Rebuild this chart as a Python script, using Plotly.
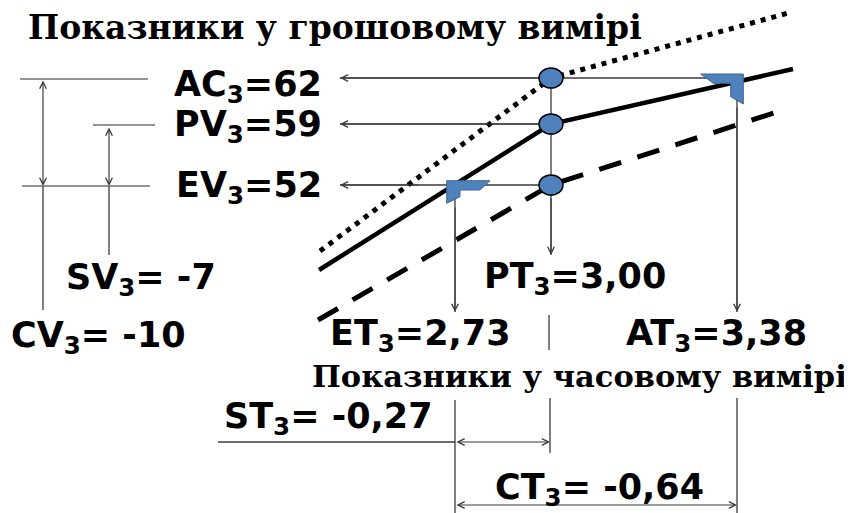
import plotly.graph_objects as go

# ---------------- data (period 3 indicators) ----------------
money_names = ["AC", "PV", "EV"]          # actual cost, planned value, earned value
money_values = [62, 59, 52]
time_names = ["ET", "PT", "AT"]           # earned time, planned time, actual time
time_values = [2.73, 3.00, 3.38]
var_names = ["SV", "CV", "ST", "CT"]      # variances
var_values = [-7, -10, -0.27, -0.64]
title_money = "Показники у грошовому вимірі"
title_time = "Показники у часовому вимірі"

# ---------------- schematic layout (pixel space of the diagram) ----------------
W, H = 852, 513
PAGE_OFF = 8   # page body margin of the html page
money_y = {"AC": 78, "PV": 124, "EV": 185}
time_x = {"ET": 455, "PT": 551, "AT": 737}
# schematic cumulative curves: start, node at PT, end
curve_ac = ([320, 551, 792], [251, 78, 12])
curve_pv = ([319, 551, 793], [270, 124, 69])
curve_ev = ([318, 551, 777], [320, 185, 112])

fmt = lambda v: f"{v:.2f}".replace(".", ",") if isinstance(v, float) else f"{v}"
money = dict(zip(money_names, money_values))
times = dict(zip(time_names, time_values))
var = dict(zip(var_names, var_values))

SANS = dict(family="DejaVu Sans", size=35, color="black", weight="bold")
SERIF_TOP = dict(family="DejaVu Serif", size=33, color="black", weight="bold")
SERIF_BOT = dict(family="DejaVu Serif", size=30.5, color="black", weight="bold")
THIN = "#3a3a3a"
BLUE = "#4F81BD"

fig = go.Figure()

# thin guide lines (under markers)
gx, gy = [], []
def seg(x0, y0, x1, y1):
    gx.extend([x0, x1, None]); gy.extend([y0, y1, None])

xl = 340
seg(xl, money_y["AC"], time_x["AT"], money_y["AC"])
seg(xl, money_y["PV"], time_x["PT"], money_y["PV"])
seg(xl, money_y["EV"], time_x["PT"], money_y["EV"])
seg(time_x["PT"], money_y["AC"], time_x["PT"], 255)
seg(time_x["ET"], money_y["EV"], time_x["ET"], 312)
seg(time_x["AT"], money_y["AC"], time_x["AT"], 312)
seg(549, 315, 549, 350)
seg(time_x["ET"], 400, time_x["ET"], 513)
seg(time_x["PT"] - 1, 398, time_x["PT"] - 1, 453)
seg(time_x["AT"], 398, time_x["AT"], 513)
seg(218, 442, time_x["ET"], 442)
seg(43, 186, 43, 310)
seg(109, 186, 109, 255)
fig.add_trace(go.Scatter(x=gx, y=gy, mode="lines", line=dict(color=THIN, width=1.3),
                         hoverinfo="skip", showlegend=False))
# left bracket horizontal lines
bx, by = [], []
for x0, x1, name in [(20, 148, "AC"), (93, 155, "PV"), (22, 150, "EV")]:
    yy = money_y[name] + 1
    bx.extend([x0, x1, None]); by.extend([yy, yy, None])
fig.add_trace(go.Scatter(x=bx, y=by, mode="lines", line=dict(color="#707070", width=1.6),
                         hoverinfo="skip", showlegend=False))

# curves
fig.add_trace(go.Scatter(x=curve_ac[0], y=curve_ac[1], mode="lines",
                         line=dict(color="black", width=5, dash="5px,6px"), showlegend=False))
fig.add_trace(go.Scatter(x=curve_pv[0], y=curve_pv[1], mode="lines",
                         line=dict(color="black", width=4.5), showlegend=False))
fig.add_trace(go.Scatter(x=curve_ev[0], y=curve_ev[1], mode="lines",
                         line=dict(color="black", width=5, dash="23px,17px"), showlegend=False))

shapes = []
# blue ellipses at PT
for name in money_names:
    cx, cy = time_x["PT"], money_y[name]
    shapes.append(dict(type="circle", xref="x", yref="y", x0=cx - 12, x1=cx + 12,
                       y0=cy - 10, y1=cy + 10, fillcolor=BLUE,
                       line=dict(color="black", width=1.5), layer="above"))

def path(cx, cy, pts):
    return "M " + " L ".join(f"{cx+dx},{cy+dy}" for dx, dy in pts) + " Z"

# corner markers
at_pts = [(-36.3, -4), (6.3, -4), (6.3, 26), (-6.3, 18.7), (-6.3, 5.3), (-23.7, 5.3)]
et_pts = [(-8.3, -4.3), (35, -4.3), (25, 5), (5, 5), (5, 11.7), (-8.3, 18.3)]
shapes.append(dict(type="path", path=path(time_x["AT"], money_y["AC"], at_pts),
                   fillcolor=BLUE, line=dict(color="#3C6596", width=1), layer="above"))
shapes.append(dict(type="path", path=path(time_x["ET"], money_y["EV"], et_pts),
                   fillcolor=BLUE, line=dict(color="#3C6596", width=1), layer="above"))

ann = []
def arrow(x, y, ax, ay, both=False):
    ann.append(dict(x=x, y=y, ax=ax, ay=ay, xref="x", yref="y", axref="x", ayref="y",
                    text="", showarrow=True, arrowhead=5, startarrowhead=5,
                    arrowside="end+start" if both else "end",
                    arrowsize=1.1, startarrowsize=1.1, arrowwidth=1.2,
                    arrowcolor=THIN, standoff=0, startstandoff=0))

arrow(xl, money_y["AC"], 539, money_y["AC"])
arrow(xl, money_y["PV"], 539, money_y["PV"])
arrow(xl, money_y["EV"], 420, money_y["EV"])
arrow(time_x["PT"], 255, time_x["PT"], 197)
arrow(time_x["ET"], 312, time_x["ET"], 206)
arrow(time_x["AT"], 312, time_x["AT"], 106)
arrow(43, 186, 43, 79, both=True)
arrow(109, 186, 109, 126, both=True)
arrow(550, 442, time_x["ET"], 442, both=True)
arrow(time_x["AT"], 505, time_x["ET"], 505, both=True)

def label(x, y, text, font=SANS, xanchor="left"):
    ann.append(dict(x=x, y=y, xref="x", yref="y", text=text, showarrow=False,
                    xanchor=xanchor, yanchor="middle", font=font))

sub = "<sub>3</sub>"
label(172, 86, f"AC{sub}={fmt(money['AC'])}")
label(172, 126, f"PV{sub}={fmt(money['PV'])}")
label(174, 187, f"EV{sub}={fmt(money['EV'])}")
label(64, 279, f"SV{sub}= {fmt(var['SV'])}")
label(9, 337, f"CV{sub}= {fmt(var['CV'])}")
label(482, 278, f"PT{sub}={fmt(times['PT'])}")
label(328, 335, f"ET{sub}={fmt(times['ET'])}")
label(624, 335, f"AT{sub}={fmt(times['AT'])}")
label(222, 418, f"ST{sub}= {fmt(var['ST'])}")
label(706, 489, f"CT{sub}= {fmt(var['CT'])}", xanchor="right")
label(26, 27, title_money, font=SERIF_TOP)
label(849, 376, title_time, font=SERIF_BOT, xanchor="right")

fig.update_layout(
    width=W, height=H, margin=dict(l=0, r=0, t=0, b=0),
    paper_bgcolor="white", plot_bgcolor="white",
    # shift ranges by the page body margin so diagram pixels land on page pixels
    xaxis=dict(range=[PAGE_OFF, W + PAGE_OFF], visible=False, fixedrange=True),
    yaxis=dict(range=[H + PAGE_OFF, PAGE_OFF], visible=False, fixedrange=True),
    shapes=shapes, annotations=ann, showlegend=False,
)
fig.write_html("out.html")
